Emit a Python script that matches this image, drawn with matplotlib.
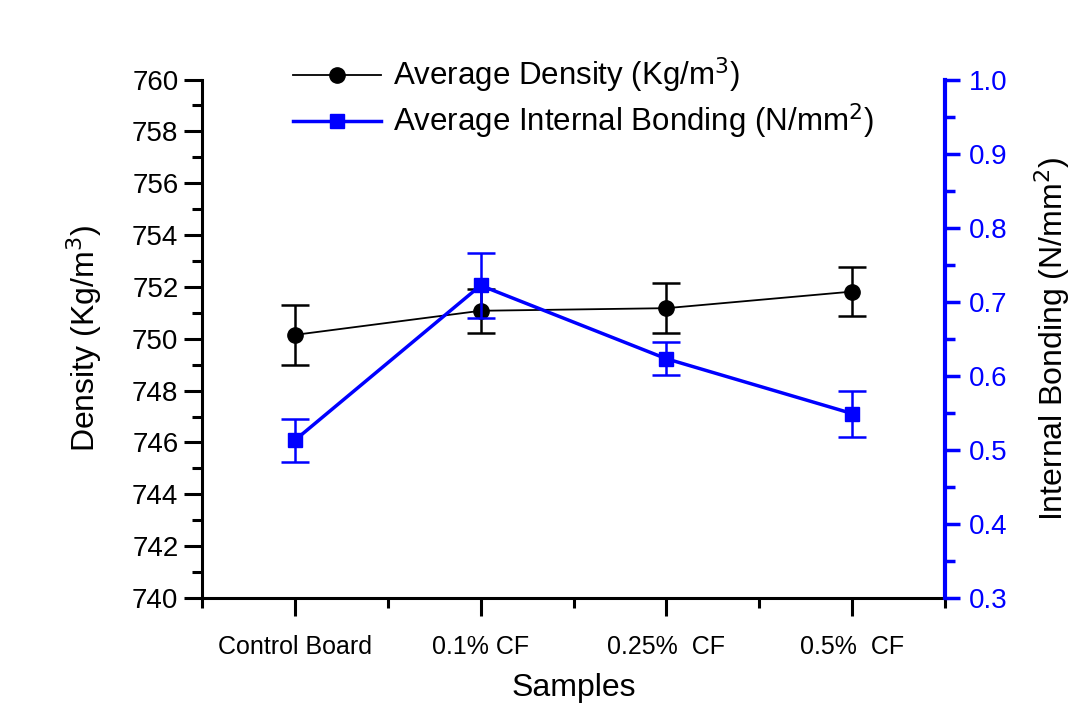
import matplotlib.pyplot as plt
from matplotlib.ticker import MultipleLocator
from matplotlib.lines import Line2D

plt.rcParams['font.family'] = ['Liberation Sans', 'DejaVu Sans']

samples = ['Control Board', '0.1% CF', '0.25%  CF', '0.5%  CF']
density = [750.15, 751.08, 751.18, 751.82]
density_err = [1.15, 0.85, 0.97, 0.95]
bonding = [0.513, 0.722, 0.623, 0.549]
bonding_err = [0.029, 0.044, 0.022, 0.031]

x = list(range(1, len(samples) + 1))

fig = plt.figure(figsize=(10.89, 7.04), dpi=100)
ax = fig.add_axes([0.1855, 0.1506, 0.6823, 0.7364])
ax2 = ax.twinx()

ax.errorbar(x, density, yerr=density_err, color='black', marker='o', markersize=11,
            linewidth=1.3, elinewidth=1.8, capsize=10, capthick=1.8)
ax2.errorbar(x, bonding, yerr=bonding_err, color='blue', marker='s', markersize=10,
             linewidth=2.5, elinewidth=1.8, capsize=10, capthick=1.8)

ax.set_xlim(0.5, 4.5)
ax.set_ylim(740, 760)
ax.set_xticks(x)
ax.set_xticklabels(samples, fontsize=18)
ax.set_xticks([0.5, 1.5, 2.5, 3.5, 4.5], minor=True)
ax.yaxis.set_major_locator(MultipleLocator(2))
ax.yaxis.set_minor_locator(MultipleLocator(1))
ax2.yaxis.set_minor_locator(MultipleLocator(0.05))

for a in (ax, ax2):
    a.spines['top'].set_visible(False)
ax.spines['right'].set_visible(False)
ax.spines['left'].set_linewidth(2.2)
ax.spines['bottom'].set_linewidth(2.2)
ax2.spines['left'].set_visible(False)
ax2.spines['bottom'].set_visible(False)
ax2.spines['right'].set_linewidth(3)
ax2.spines['right'].set_color('blue')

ax.tick_params(which='major', direction='out', length=13, width=2.2, labelsize=20, pad=4)
ax.tick_params(which='minor', direction='out', length=7, width=2.2)
ax.tick_params(axis='x', which='major', pad=14, labelsize=18)
ax2.tick_params(which='major', direction='out', length=11, width=2.5, color='blue',
                labelcolor='blue', labelsize=20, pad=6)
ax2.tick_params(which='minor', direction='out', length=7, width=2.5, color='blue')
ax2.set_yticks([0.3, 0.4, 0.5, 0.6, 0.7, 0.8, 0.9, 1.0])
ax2.set_yticklabels(['0.3', '0.4', '0.5', '0.6', '0.7', '0.8', '0.9', '1.0'])
ax2.set_ylim(0.3, 1.0)

ax.set_xlabel('Samples', fontsize=23, labelpad=10)
ax.set_ylabel('Density (Kg/m$^3$)', fontsize=23, labelpad=20)
ax2.set_ylabel('Internal Bonding (N/mm$^2$)', fontsize=23, labelpad=18)

handles = [
    Line2D([], [], color='black', marker='o', markersize=11, linewidth=1.3),
    Line2D([], [], color='blue', marker='s', markersize=10, linewidth=2.5),
]
ax.legend(handles, ['Average Density (Kg/m$^3$)', 'Average Internal Bonding (N/mm$^2$)'],
          loc='upper left', bbox_to_anchor=(0.085, 1.1), frameon=False, fontsize=22.5,
          handlelength=2.8, labelspacing=0.2, handletextpad=0.4)

fig.savefig('out.png', dpi=100)
